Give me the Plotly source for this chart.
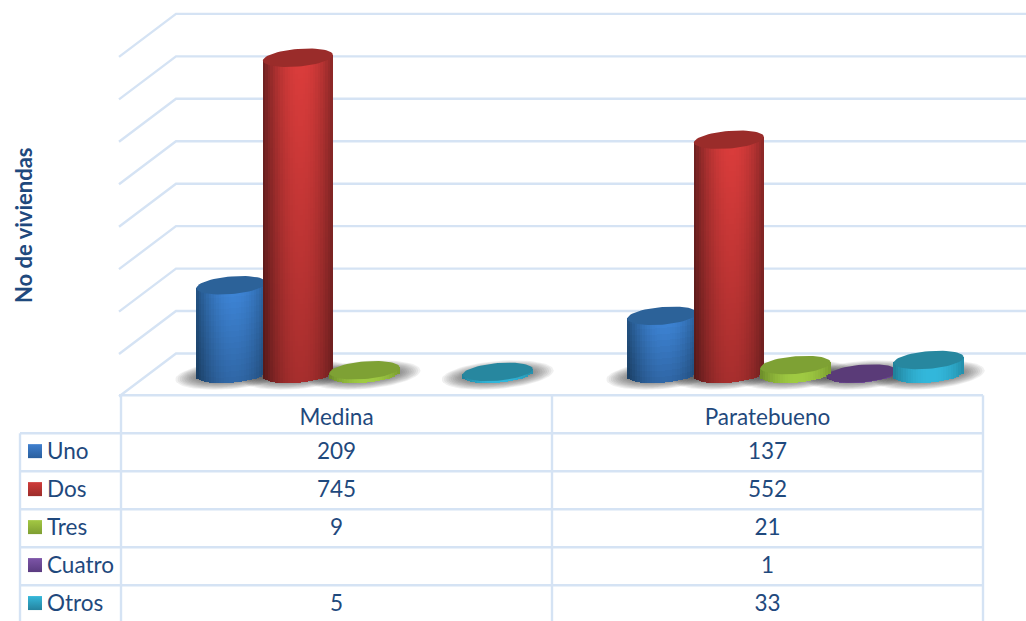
import math
import plotly.graph_objects as go

categories = ["Medina", "Paratebueno"]
series_names = ["Uno", "Dos", "Tres", "Cuatro", "Otros"]
uno = [209, 137]
dos = [745, 552]
tres = [9, 21]
cuatro = [None, 1]
otros = [5, 33]
gridline_values = [0, 100, 200, 300, 400, 500, 600, 700, 800]
y_title = "No de viviendas"

centre_colors = ["#3f87da", "#dc3d3c", "#a0cb43", "#7b55a8", "#33b8dc"]
edge_colors = ["#22507f", "#6b2020", "#6c8c2a", "#4a2f66", "#1f7f98"]
top_colors = ["#2c6299", "#9a2c2a", "#7ea134", "#5a3b78", "#27879f"]
swatch_top = ["#3f7fcf", "#d03b3a", "#a3c843", "#7d55a8", "#35b8da"]
swatch_bottom = ["#2a5f9e", "#9c2c2a", "#7e9e32", "#5a3b80", "#25839f"]
text_color = "#1f497d"
grid_color = "#d5e3f4"
font = "Lato"

values = [uno, dos, tres, cuatro, otros]
W, H = 1026, 621
PX_X, PX_Y = 431.0, 0.4245
LEFT, BASE = 121.0, 374.0
RADIUS_X = 35 / PX_X
RADIUS_Y = 8.8 / PX_Y
TILT = 0.08 * PX_X / PX_Y
SPACING, SHIFT = 66.6 / PX_X, 28 / PX_X
WALL_START = -2 / PX_X
WALL_DX = 57 / PX_X
WALL_DY = 20.5 / PX_Y
DEPTH_DY = 43 / PX_Y
ROW_H, ROW0 = 37.98, 414.3
x_range = [-LEFT / PX_X, (W - LEFT) / PX_X]
y_range = [-(H - BASE) / PX_Y, BASE / PX_Y]
row_range = [(H - ROW0) / ROW_H, -ROW0 / ROW_H]


def hex_rgb(c):
    return [int(c[i:i + 2], 16) for i in (1, 3, 5)]


def mix(c1, c2, t, k=1.0):
    a, b = hex_rgb(c1), hex_rgb(c2)
    return "rgb(%d,%d,%d)" % tuple(int((p + (q - p) * t) * k) for p, q in zip(a, b))


def centre_x(cat, ser):
    return cat + 0.5 + SHIFT + (ser - 2) * SPACING


def ellipse(cx, cy, rx, ry, n=60):
    xs, ys = [], []
    for k in range(n + 1):
        t = 2 * math.pi * k / n
        dx = rx * math.cos(t)
        xs.append(cx + dx)
        ys.append(cy + ry * math.sin(t) + TILT * dx)
    return xs, ys


fig = go.Figure()
no_hover = dict(hoverinfo="skip", showlegend=False)


def line(x, y, ax="", width=2.0):
    fig.add_trace(go.Scatter(x=x, y=y, mode="lines", xaxis="x" + ax, yaxis="y" + ax,
                             line=dict(color=grid_color, width=width), **no_hover))


# walls
for v in gridline_values:
    yb = v + WALL_DY
    line([WALL_START, WALL_START + WALL_DX, x_range[1]], [yb - DEPTH_DY, yb, yb], width=2.4)

# table grid
row_lines = [-0.5, 0.5, 1.5, 2.5, 3.5, 4.5]
for i, r in enumerate(row_lines):
    x0 = WALL_START if i == 0 else -101 / PX_X
    line([x0, 2], [r, r], ax="2", width=2.4)
for col in [0, 1, 2]:
    line([col, col], [-0.5, 5.6], ax="2", width=2.4)
line([-101 / PX_X] * 2, [0.5, 5.6], ax="2", width=2.4)

# shadows
for cat in range(len(categories)):
    for ser, vals in enumerate(values):
        if vals[cat] is None:
            continue
        for k in range(10):
            f = k / 9
            sx, sy = ellipse(centre_x(cat, ser), -1 / PX_Y,
                             (56 - 20 * f) / PX_X, (14 - 7 * f) / PX_Y)
            fig.add_trace(go.Scatter(x=sx, y=sy, mode="lines", fill="toself",
                                     fillcolor="rgba(60,60,60,0.075)",
                                     line=dict(width=0), xaxis="x", yaxis="y", **no_hover))

# cylinders: one overlaid axis pair per series, so later series sit on top of earlier ones
draw_order = [0, 1, 3, 2, 4]
STRIPS = 28
for layer, ser in enumerate(draw_order):
    ax = str(layer + 3)
    for cat in range(len(categories)):
        v = values[ser][cat]
        if v is None:
            continue
        cx = centre_x(cat, ser)
        bands = max(1, int(v / 12))
        xs, bases, heights, colors = [], [], [], []
        step = 2 * RADIUS_X / STRIPS
        for i in range(STRIPS):
            dx = -RADIUS_X + (i + 0.5) * step
            s = dx / RADIUS_X
            low = -RADIUS_Y * math.sqrt(max(0, 1 - s * s)) + TILT * dx
            high = v + TILT * dx
            shade = 1 - abs((s - 0.08) / 1.08) ** 2.0
            for j in range(bands):
                start = low + (high - low) * j / bands
                stop = low + (high - low) * (j + 1) / bands
                frac = (j + 0.5) / bands
                k = 0.76 + 0.24 * frac if v > 100 else 1.0
                xs.append(cx + dx)
                bases.append(start)
                heights.append(stop - start + 0.6)
                colors.append(mix(edge_colors[ser], centre_colors[ser], shade, k))
        fig.add_trace(go.Bar(x=xs, y=heights, base=bases, width=step * 1.2,
                             marker=dict(color=colors, line=dict(width=0)),
                             xaxis="x" + ax, yaxis="y" + ax, **no_hover))
        tx, ty = ellipse(cx, v, RADIUS_X, RADIUS_Y)
        fig.add_trace(go.Scatter(x=tx, y=ty, mode="lines", fill="toself",
                                 fillcolor=top_colors[ser], line=dict(width=0),
                                 xaxis="x" + ax, yaxis="y" + ax, **no_hover))

# table text
text_font = dict(family=font, size=22.5, color=text_color)
fig.add_trace(go.Scatter(x=[0.5, 1.5], y=[0.13, 0.13], text=categories, mode="text",
                         textposition="middle center", textfont=text_font,
                         xaxis="x2", yaxis="y2", **no_hover))
for ser, vals in enumerate(values):
    row = ser + 1
    fig.add_trace(go.Scatter(x=[0.5, 1.5], y=[row + 0.02, row + 0.02],
                             text=["" if q is None else str(q) for q in vals],
                             mode="text", textposition="middle center", textfont=text_font,
                             xaxis="x2", yaxis="y2", **no_hover))
    fig.add_trace(go.Scatter(x=[-74 / PX_X], y=[row + 0.02], text=[series_names[ser]],
                             mode="text", textposition="middle right", textfont=text_font,
                             xaxis="x2", yaxis="y2", **no_hover))
    fig.add_trace(go.Scatter(x=[-86 / PX_X], y=[row - 0.03], mode="markers",
                             marker=dict(symbol="square", size=14, color=swatch_top[ser],
                                         gradient=dict(type="vertical", color=swatch_bottom[ser]),
                                         line=dict(width=0)),
                             xaxis="x2", yaxis="y2", **no_hover))

hidden = dict(visible=False, fixedrange=True)
axes = dict(
    xaxis=dict(range=x_range, domain=[0, 1], **hidden),
    yaxis=dict(range=y_range, domain=[0, 1], **hidden),
    xaxis2=dict(range=x_range, overlaying="x", **hidden),
    yaxis2=dict(range=row_range, overlaying="y", **hidden),
)
for layer in range(len(draw_order)):
    n = layer + 3
    axes["xaxis%d" % n] = dict(range=x_range, overlaying="x", **hidden)
    axes["yaxis%d" % n] = dict(range=y_range, overlaying="y", **hidden)

fig.update_layout(
    width=W, height=H, margin=dict(l=0, r=0, t=0, b=0),
    paper_bgcolor="white", plot_bgcolor="white",
    barmode="overlay", bargap=0, showlegend=False,
    annotations=[dict(text="<b>%s</b>" % y_title, textangle=-90, xref="paper", yref="paper",
                      x=23 / W, y=1 - 225 / H, xanchor="center", yanchor="middle", showarrow=False,
                      font=dict(family=font, size=22, color=text_color))],
    **axes,
)
fig.write_html("out.html", config=dict(displayModeBar=False),
               post_script="document.body.style.margin='0';document.body.style.overflow='hidden';")
